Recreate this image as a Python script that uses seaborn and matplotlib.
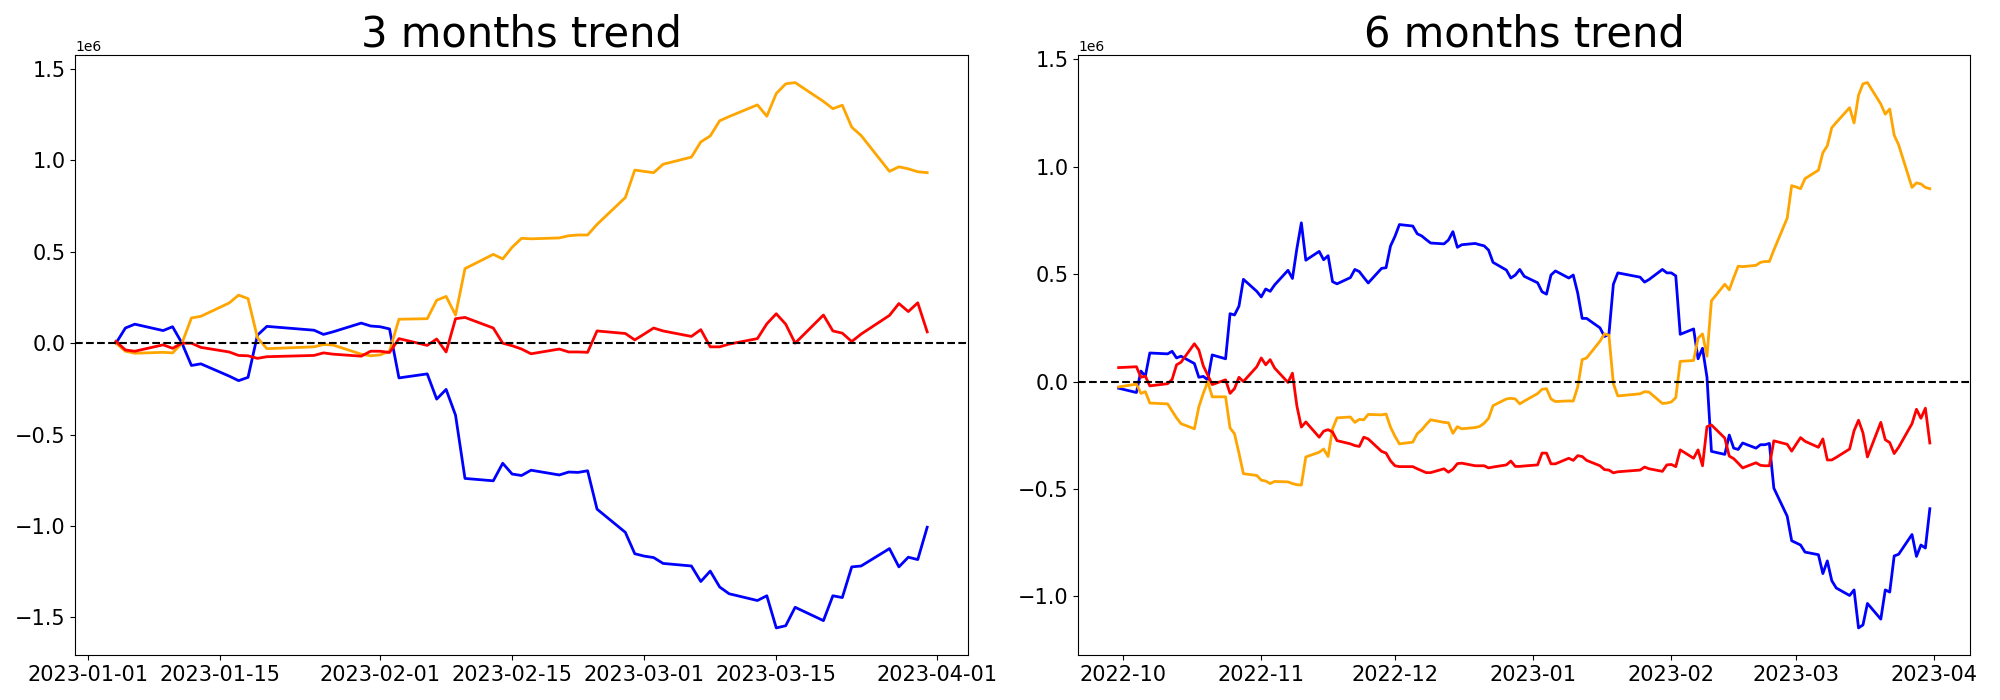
import pandas as pd
import matplotlib
matplotlib.use("Agg")
import matplotlib.pyplot as plt
import matplotlib.dates as mdates
import seaborn as sns

# trading days shown in each panel (a few holiday gaps dropped)
dates_3m = pd.bdate_range('2023-01-04', '2023-03-31').drop(
    pd.to_datetime(['2023-01-23', '2023-01-24']))
dates_6m = pd.bdate_range('2022-09-30', '2023-03-31').drop(
    pd.to_datetime(['2022-10-03', '2022-10-10', '2023-01-23', '2023-01-24']))

# cumulative values, in millions
blue_3m = [0.000, 0.083, 0.104, 0.069, 0.090, 0.000, -0.122, -0.113, -0.180, -0.205, -0.187, 0.044, 0.092, 0.071, 0.048, 0.062, 0.110, 0.094,
           0.090, 0.078, -0.190, -0.168, -0.306, -0.253, -0.394, -0.740, -0.753, -0.657, -0.716, -0.724, -0.695, -0.721, -0.705, -0.707, -0.698, -0.908, -1.035, -1.152,
           -1.165, -1.173, -1.205, -1.219, -1.304, -1.247, -1.334, -1.371, -1.408, -1.382, -1.558, -1.546, -1.445, -1.518, -1.382, -1.392, -1.224, -1.219, -1.124, -1.224, -1.171, -1.184, -1.007]
orange_3m = [0.000, -0.044, -0.055, -0.050, -0.053, 0.000, 0.138, 0.147, 0.220, 0.263, 0.244, 0.030, -0.030, -0.020, -0.007, -0.010, -0.060, -0.069,
             -0.064, -0.044, 0.131, 0.134, 0.235, 0.256, 0.154, 0.408, 0.486, 0.461, 0.525, 0.574, 0.571, 0.576, 0.588, 0.592, 0.592, 0.650, 0.797, 0.947,
             0.940, 0.933, 0.979, 1.018, 1.101, 1.134, 1.217, 1.240, 1.304, 1.242, 1.366, 1.419, 1.426, 1.323, 1.283, 1.302, 1.182, 1.136, 0.940, 0.965, 0.954, 0.938, 0.933]
red_3m = [0.010, -0.037, -0.044, -0.009, -0.028, 0.000, 0.000, -0.023, -0.048, -0.067, -0.069, -0.083, -0.074, -0.067, -0.053, -0.060, -0.071, -0.044,
          -0.044, -0.051, 0.025, -0.012, 0.023, -0.048, 0.134, 0.141, 0.083, 0.000, -0.014, -0.032, -0.058, -0.032, -0.048, -0.048, -0.050, 0.067, 0.053, 0.018,
          0.050, 0.083, 0.067, 0.037, 0.074, -0.020, -0.020, -0.005, 0.025, 0.106, 0.161, 0.104, 0.000, 0.154, 0.067, 0.055, 0.009, 0.050, 0.152, 0.217, 0.173, 0.221, 0.062]

blue_6m = [-0.031,
           -0.051, 0.049, 0.025, 0.133, 0.129, 0.141, 0.110, 0.118, 0.084, 0.020, 0.024, 0.008, 0.124, 0.106, 0.316, 0.310, 0.351, 0.476, 0.420,
           0.394, 0.431, 0.420, 0.450, 0.518, 0.480, 0.620, 0.739, 0.565, 0.606, 0.567, 0.586, 0.465, 0.455, 0.484, 0.522, 0.512, 0.485, 0.459, 0.527, 0.530, 0.631,
           0.676, 0.731, 0.724, 0.688, 0.678, 0.661, 0.645, 0.641, 0.659, 0.698, 0.625, 0.637, 0.643, 0.637, 0.632, 0.612, 0.555, 0.519, 0.482, 0.496, 0.522, 0.490,
           0.460, 0.418, 0.407, 0.496, 0.515, 0.482, 0.496, 0.412, 0.294, 0.294, 0.250, 0.210, 0.220, 0.453, 0.506, 0.486, 0.463, 0.475, 0.522, 0.506,
           0.506, 0.492, 0.220, 0.245, 0.106, 0.155, 0.020, -0.325, -0.339, -0.249, -0.310, -0.316, -0.286, -0.310, -0.294, -0.294, -0.288, -0.496, -0.627, -0.741,
           -0.751, -0.761, -0.794, -0.806, -0.894, -0.835, -0.927, -0.961, -0.996, -0.970, -1.147, -1.133, -1.033, -1.106, -0.970, -0.980, -0.812, -0.804, -0.712, -0.814, -0.761, -0.775, -0.592]
orange_6m = [-0.025,
             -0.012, -0.055, -0.047, -0.100, -0.104, -0.137, -0.169, -0.196, -0.220, -0.118, -0.055, 0.000, -0.071, -0.071, -0.216, -0.243, -0.333, -0.429, -0.437,
             -0.459, -0.463, -0.475, -0.465, -0.467, -0.475, -0.480, -0.482, -0.351, -0.329, -0.314, -0.349, -0.220, -0.169, -0.165, -0.190, -0.176, -0.178, -0.153, -0.155, -0.151, -0.212,
             -0.255, -0.290, -0.282, -0.243, -0.225, -0.200, -0.178, -0.190, -0.192, -0.241, -0.210, -0.220, -0.214, -0.209, -0.194, -0.171, -0.112, -0.081, -0.078, -0.081, -0.104, -0.091,
             -0.056, -0.036, -0.033, -0.081, -0.093, -0.090, -0.091, -0.025, 0.102, 0.110, 0.188, 0.222, 0.216, -0.010, -0.067, -0.057, -0.047, -0.049, -0.102, -0.100,
             -0.095, -0.075, 0.094, 0.098, 0.202, 0.222, 0.118, 0.376, 0.453, 0.427, 0.484, 0.537, 0.535, 0.541, 0.555, 0.559, 0.559, 0.612, 0.761, 0.912,
             0.906, 0.898, 0.945, 0.984, 1.065, 1.098, 1.182, 1.206, 1.275, 1.204, 1.333, 1.386, 1.392, 1.292, 1.245, 1.269, 1.147, 1.102, 0.904, 0.925, 0.920, 0.904, 0.898]
red_6m = [0.065,
          0.069, 0.020, 0.025, -0.020, -0.010, 0.010, 0.078, 0.090, 0.176, 0.147, 0.073, 0.030, -0.014, 0.008, -0.055, -0.033, 0.020, 0.000, 0.069,
          0.110, 0.078, 0.102, 0.063, -0.004, 0.039, -0.114, -0.212, -0.188, -0.259, -0.231, -0.224, -0.235, -0.275, -0.290, -0.298, -0.302, -0.259, -0.267, -0.325, -0.333, -0.369,
          -0.392, -0.396, -0.396, -0.406, -0.415, -0.424, -0.424, -0.406, -0.422, -0.408, -0.382, -0.380, -0.392, -0.392, -0.392, -0.402, -0.398, -0.388, -0.370, -0.395, -0.395, -0.393,
          -0.388, -0.333, -0.333, -0.383, -0.383, -0.357, -0.367, -0.345, -0.349, -0.367, -0.392, -0.410, -0.412, -0.425, -0.420, -0.412, -0.398, -0.406, -0.418, -0.388,
          -0.386, -0.396, -0.318, -0.357, -0.318, -0.392, -0.210, -0.202, -0.263, -0.347, -0.359, -0.380, -0.402, -0.378, -0.390, -0.392, -0.392, -0.276, -0.292, -0.324,
          -0.292, -0.261, -0.278, -0.306, -0.267, -0.365, -0.365, -0.353, -0.314, -0.229, -0.180, -0.239, -0.351, -0.190, -0.271, -0.284, -0.335, -0.306, -0.196, -0.129, -0.171, -0.124, -0.286]

SCALE = 1e6

fig, axes = plt.subplots(1, 2, figsize=(20, 7), dpi=100)

panels = [
    (axes[0], dates_3m, [blue_3m, orange_3m, red_3m], '3 months trend'),
    (axes[1], dates_6m, [blue_6m, orange_6m, red_6m], '6 months trend'),
]
colors = ['blue', 'orange', 'red']

for ax, dates, series, title in panels:
    for vals, c in zip(series, colors):
        sns.lineplot(x=dates, y=[v * SCALE for v in vals], color=c, linewidth=2, ax=ax)
    ax.axhline(0, color='black', linestyle='--', linewidth=1.5)
    ax.set_title(title, fontsize=30)
    ax.set_xlabel('')
    ax.set_ylabel('')
    ax.tick_params(labelsize=15)

axes[0].xaxis.set_major_locator(mdates.DayLocator(bymonthday=[1, 15]))
axes[0].xaxis.set_major_formatter(mdates.DateFormatter('%Y-%m-%d'))
axes[1].xaxis.set_major_locator(mdates.MonthLocator())
axes[1].xaxis.set_major_formatter(mdates.DateFormatter('%Y-%m'))

fig.subplots_adjust(left=0.0377, right=0.9852, top=0.921, bottom=0.064, wspace=0.1236)
plt.savefig('out.png')
print("Chart generated: out.png")
